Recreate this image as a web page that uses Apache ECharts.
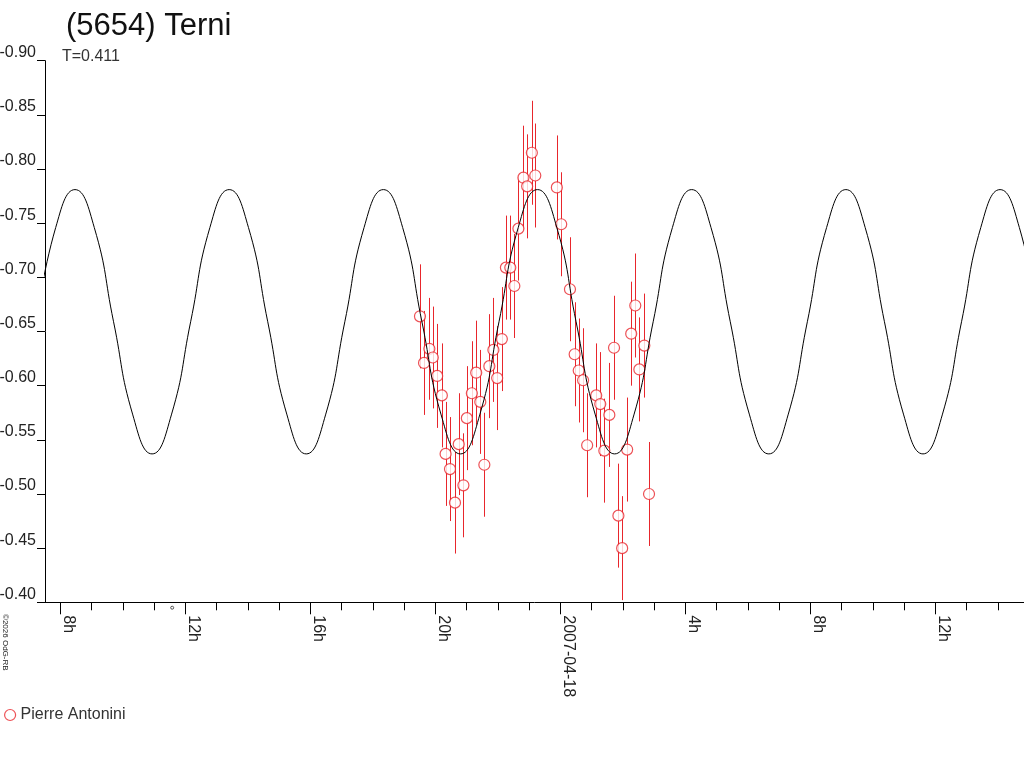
<!DOCTYPE html>
<html>
<head>
<meta charset="utf-8">
<script src="https://cdn.jsdelivr.net/npm/echarts@6/dist/echarts.min.js"></script>
<style>
html,body{margin:0;padding:0;background:#fff;}
#chart{width:1024px;height:768px;}
</style>
</head>
<body>
<div id="chart"></div>
<script>
// Observations: hours since 2007-04-17 00:00, magnitude, error
const obsTime = [19.51, 19.64, 19.81, 19.92, 20.06, 20.21, 20.33, 20.47, 20.63, 20.75, 20.90, 21.01,
  21.17, 21.31, 21.44, 21.57, 21.73, 21.86, 21.98, 22.13, 22.26, 22.40, 22.53, 22.66,
  22.82, 22.94, 23.09, 23.20, 23.89, 24.03, 24.31, 24.46, 24.59, 24.73, 24.86, 25.15,
  25.28, 25.41, 25.57, 25.72, 25.86, 25.98, 26.14, 26.27, 26.40, 26.53, 26.69, 26.84];
const obsMag = [-0.664, -0.621, -0.634, -0.626, -0.609, -0.591, -0.537, -0.523, -0.492, -0.546, -0.508, -0.570,
  -0.593, -0.612, -0.585, -0.527, -0.618, -0.633, -0.607, -0.643, -0.709, -0.709, -0.692, -0.745,
  -0.792, -0.784, -0.815, -0.794, -0.783, -0.749, -0.689, -0.629, -0.614, -0.605, -0.545, -0.591,
  -0.583, -0.540, -0.573, -0.635, -0.480, -0.450, -0.541, -0.648, -0.674, -0.615, -0.637, -0.500];
const obsErr = [0.048, 0.048, 0.047, 0.047, 0.048, 0.048, 0.048, 0.048, 0.047, 0.047, 0.048, 0.048,
  0.048, 0.048, 0.048, 0.048, 0.048, 0.048, 0.048, 0.048, 0.048, 0.048, 0.048, 0.048,
  0.048, 0.048, 0.048, 0.048, 0.048, 0.048, 0.048, 0.048, 0.048, 0.048, 0.048, 0.048,
  0.048, 0.048, 0.048, 0.048, 0.048, 0.048, 0.048, 0.048, 0.048, 0.048, 0.048, 0.048];

// Fitted lightcurve
const curveTime = [7.236, 7.853, 8.470, 9.087, 9.704, 10.320, 10.937, 11.554, 12.171, 12.787,
  13.404, 14.021, 14.638, 15.254, 15.871, 16.488, 17.105, 17.721, 18.338, 18.955,
  19.572, 20.188, 20.805, 21.422, 22.039, 22.655, 23.272, 23.889, 24.506, 25.122,
  25.739, 26.356, 26.973, 27.589, 28.206, 28.823, 29.440, 30.056, 30.673, 31.290,
  31.907, 32.523, 33.140, 33.757, 34.374, 34.990, 35.607, 36.224, 36.841, 37.457,
  38.074, 38.691, 39.308];
const curveMag = [-0.659, -0.746, -0.781, -0.746, -0.659, -0.573, -0.537, -0.573, -0.659, -0.746,
  -0.781, -0.746, -0.659, -0.573, -0.537, -0.573, -0.659, -0.746, -0.781, -0.746,
  -0.659, -0.573, -0.537, -0.573, -0.659, -0.746, -0.781, -0.746, -0.659, -0.573,
  -0.537, -0.573, -0.659, -0.746, -0.781, -0.746, -0.659, -0.573, -0.537, -0.573,
  -0.659, -0.746, -0.781, -0.746, -0.659, -0.573, -0.537, -0.573, -0.659, -0.746,
  -0.781, -0.746, -0.659];

const majorTicks = [8, 12, 16, 20, 24, 28, 32, 36];
const minorTicks = [8, 9, 10, 11, 12, 13, 14, 15, 16, 17, 18, 19, 20, 21, 22, 23, 24,
  25, 26, 27, 28, 29, 30, 31, 32, 33, 34, 35, 36, 37, 38];
const dateLabel = '2007-04-18';
const markerTime = [11.58];
const markerMag = [-0.395];

const titleText = '(5654) Terni';
const subText = 'T=0.411';
const observer = 'Pierre Antonini';
const copyright = '\u00a92026 OdG-RB';

const FONT = 'Liberation Sans';
const RED = '#e8262c';

const chart = echarts.init(document.getElementById('chart'));

const obsData = obsTime.map((t, i) => [t, obsMag[i]]);
const errData = obsTime.map((t, i) => [t, obsMag[i] - obsErr[i], obsMag[i] + obsErr[i]]);
const curveData = curveTime.map((t, i) => [t, curveMag[i]]);
const markerData = markerTime.map((t, i) => [t, markerMag[i]]);

chart.setOption({
  backgroundColor: '#fff',
  animation: false,
  title: [
    { text: titleText, left: 66, top: 11, padding: 0,
      textStyle: { fontFamily: FONT, fontSize: 31, fontWeight: 'normal', color: '#111' } },
    { text: subText, left: 62, top: 49, padding: 0,
      textStyle: { fontFamily: FONT, fontSize: 16, fontWeight: 'normal', color: '#333' } }
  ],
  legend: {
    left: 4, top: 707, padding: 0,
    itemWidth: 11, itemHeight: 11, itemGap: 10,
    data: [{ name: observer, icon: 'circle',
      itemStyle: { color: '#fff', borderColor: RED, borderWidth: 1.2 } }],
    textStyle: { fontFamily: FONT, fontSize: 16, color: '#333' }
  },
  graphic: [
    { type: 'text', x: 1, y: 614, rotation: -Math.PI / 2,
      style: { text: copyright, fontFamily: FONT, fontSize: 8, fill: '#222', align: 'left', verticalAlign: 'bottom' } }
  ],
  grid: { left: 45, right: 0, top: 60.7, bottom: 165.7, containLabel: false, outerBoundsMode: 'none' },
  xAxis: [
    {
      type: 'value', min: 7.51, max: 38.84, position: 'bottom',
      axisLine: { show: true, lineStyle: { color: '#000', width: 1 } },
      axisTick: { show: true, length: 8, customValues: minorTicks, lineStyle: { color: '#000' } },
      axisLabel: { show: false },
      splitLine: { show: false }
    },
    {
      type: 'value', min: 7.51, max: 38.84, position: 'bottom',
      axisLine: { show: false },
      axisTick: { show: true, length: 12, customValues: majorTicks, lineStyle: { color: '#000' } },
      axisLabel: {
        show: true, customValues: majorTicks, rotate: -90, margin: 13,
        verticalAlign: 'bottom',
        fontFamily: FONT, fontSize: 16, color: '#222',
        formatter: v => (v === 24 ? dateLabel : (v % 24) + 'h')
      },
      splitLine: { show: false }
    }
  ],
  yAxis: {
    type: 'value', min: -0.9, max: -0.4, interval: 0.05, inverse: true,
    axisLine: { show: true, lineStyle: { color: '#000', width: 1 } },
    axisTick: { show: true, length: 8, lineStyle: { color: '#000' } },
    axisLabel: {
      fontFamily: FONT, fontSize: 16, color: '#222', margin: 9,
      verticalAlign: 'bottom',
      formatter: v => v.toFixed(2)
    },
    splitLine: { show: false }
  },
  series: [
    {
      name: 'errorbars', type: 'custom', xAxisIndex: 0, z: 2,
      itemStyle: { color: RED },
      encode: { x: 0, y: [1, 2] },
      data: errData,
      renderItem: (params, api) => {
        const p1 = api.coord([api.value(0), api.value(1)]);
        const p2 = api.coord([api.value(0), api.value(2)]);
        const x = Math.round(p1[0]) + 0.5;
        return {
          type: 'line',
          shape: { x1: x, y1: p1[1], x2: x, y2: p2[1] },
          style: { stroke: RED, fill: null, lineWidth: 1 }
        };
      }
    },
    {
      name: observer, type: 'scatter', xAxisIndex: 0, z: 3,
      symbol: 'circle', symbolSize: 11,
      itemStyle: { color: '#fff', borderColor: RED, borderWidth: 1.2 },
      data: obsData
    },
    {
      name: 'fit', type: 'line', xAxisIndex: 0, z: 4,
      smooth: true, showSymbol: false, symbol: 'none',
      lineStyle: { color: '#000', width: 1 },
      data: curveData
    },
    {
      name: 'marker', type: 'scatter', xAxisIndex: 0, z: 5, clip: false,
      symbol: 'circle', symbolSize: 3,
      itemStyle: { color: '#fff', borderColor: '#000', borderWidth: 0.8 },
      data: markerData
    }
  ]
});
</script>
</body>
</html>
